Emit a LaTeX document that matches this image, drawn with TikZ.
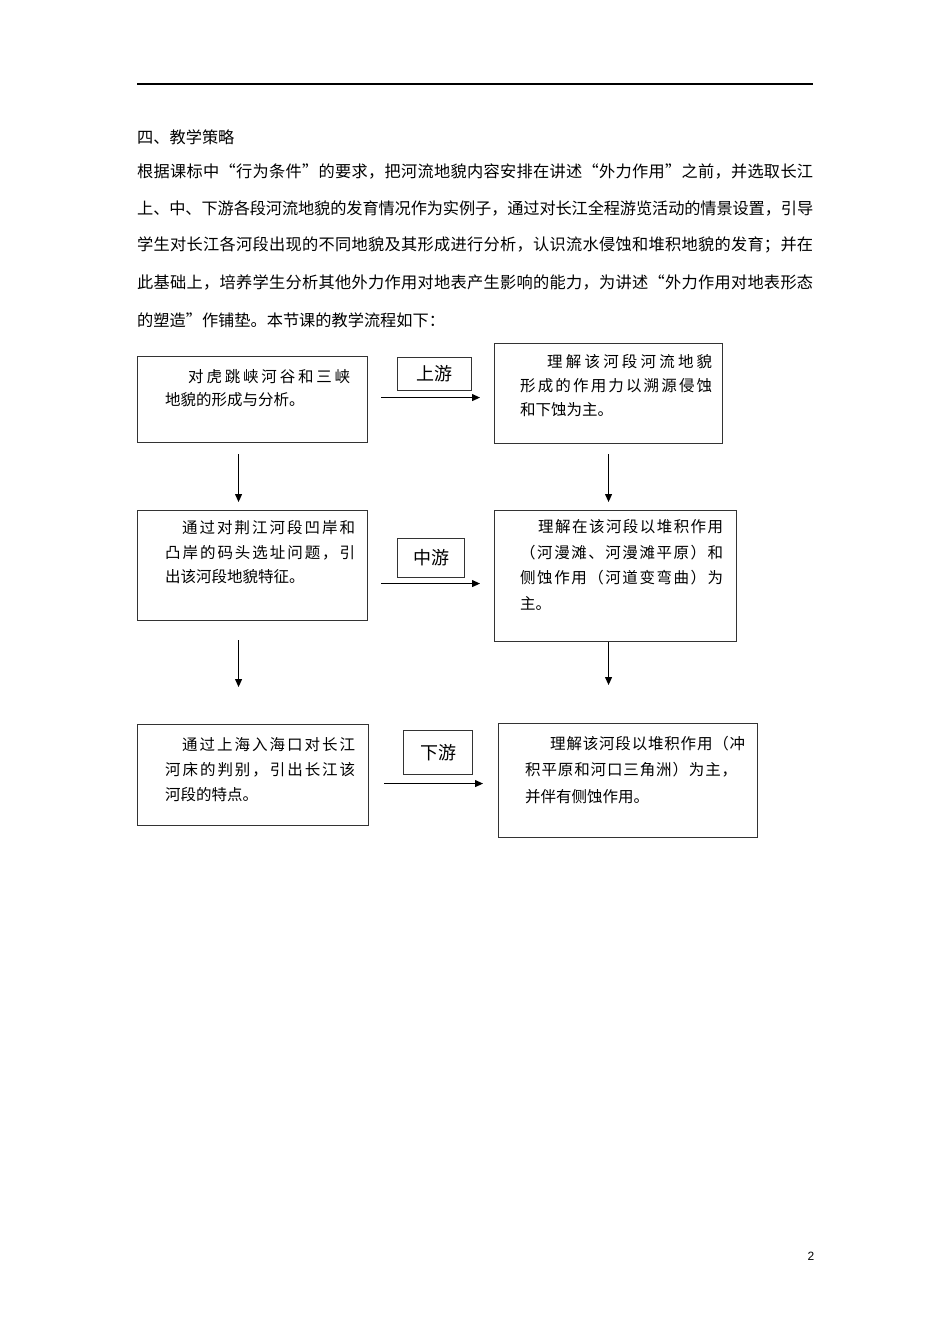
\documentclass[tikz,border=0pt]{standalone}
\usepackage{fontspec}
\usetikzlibrary{arrows.meta}
\setmainfont{Liberation Sans}
\newfontfamily\cjk{Noto Sans CJK SC}
\newcount\cjkcnt
\newcommand\cjkrange[2]{\cjkcnt=#1\relax
  \loop \XeTeXcharclass\cjkcnt=1 \advance\cjkcnt by 1 \ifnum\cjkcnt<#2\relax\repeat}
\cjkrange{"4E00}{"A000}
\cjkrange{"3000}{"3040}
\cjkrange{"FF00}{"FF66}
\cjkrange{"2018}{"201E}
\XeTeXinterchartokenstate=1
\XeTeXinterchartoks 1 1 = {\hskip 0pt plus 1pt minus 0.3pt}
\newcommand\jl[2]{\makebox[#1pt][s]{#2}}
\begin{document}
\begin{tikzpicture}[x=1pt,y=-1pt,
  body/.style={anchor=west, inner sep=0, font=\cjk\fontsize{16.2}{19}\selectfont},
  txt/.style={anchor=west, inner sep=0, font=\cjk\fontsize{15.5}{18}\selectfont},
  box/.style={draw=black!80, line width=1.1pt, inner sep=0, anchor=north west},
  lab/.style={draw=black!80, line width=1.1pt, inner sep=0, anchor=north west, font=\cjk\fontsize{18}{20}\selectfont},
  arr/.style={-{Triangle[length=8pt,width=7pt]}, line width=1pt}]
\fill[white] (0,0) rectangle (950,1344);
\useasboundingbox (0,0) rectangle (950,1344);
% header rule
\draw[line width=1.5pt] (137,84) -- (813,84);
% body text
\node[body] (t1) at (137,137) {四、教学策略};
\node[body] (t2) at (137,172) {\jl{676}{根据课标中“行为条件”的要求，把河流地貌内容安排在讲述“外力作用”之前，并选取长江}};
\node[body] (t3) at (137,208) {\jl{676}{上、中、下游各段河流地貌的发育情况作为实例子，通过对长江全程游览活动的情景设置，引导}};
\node[body] (t4) at (137,245) {\jl{676}{学生对长江各河段出现的不同地貌及其形成进行分析，认识流水侵蚀和堆积地貌的发育；并在}};
\node[body] (t5) at (137,282) {\jl{676}{此基础上，培养学生分析其他外力作用对地表产生影响的能力，为讲述“外力作用对地表形态}};
\node[body] (t6) at (137,320) {的塑造”作铺垫。本节课的教学流程如下：};
% boxes
\node[box, minimum width=230pt, minimum height=86pt] (A1) at (137,356) {};
\node[box, minimum width=228pt, minimum height=100pt] (B1) at (494,343) {};
\node[box, minimum width=230pt, minimum height=110pt] (A2) at (137,510) {};
\node[box, minimum width=242pt, minimum height=131pt] (B2) at (494,510) {};
\node[box, minimum width=231pt, minimum height=101pt] (A3) at (137,724) {};
\node[box, minimum width=259pt, minimum height=114pt] (B3) at (498,723) {};
% labels
\node[lab, minimum width=74pt, minimum height=33pt] (L1) at (397,357) {上游};
\node[lab, minimum width=67pt, minimum height=39pt] (L2) at (397,538) {中游};
\node[lab, minimum width=69pt, minimum height=44pt] (L3) at (403,730) {下游};
% box texts
\node[txt] (a1a) at (188,377) {\jl{162}{对虎跳峡河谷和三峡}};
\node[txt] (a1b) at (165,400) {地貌的形成与分析。};
\node[txt] (b1a) at (547,362) {\jl{165}{理解该河段河流地貌}};
\node[txt] (b1b) at (520,386) {\jl{192}{形成的作用力以溯源侵蚀}};
\node[txt] (b1c) at (520,410) {和下蚀为主。};
\node[txt] (a2a) at (182,528) {\jl{173}{通过对荆江河段凹岸和}};
\node[txt] (a2b) at (165,553) {\jl{190}{凸岸的码头选址问题，引}};
\node[txt] (a2c) at (165,577) {出该河段地貌特征。};
\node[txt] (b2a) at (538,527) {\jl{185}{理解在该河段以堆积作用}};
\node[txt] (b2b) at (520,553) {\jl{203}{（河漫滩、河漫滩平原）和}};
\node[txt] (b2c) at (520,578) {\jl{203}{侧蚀作用（河道变弯曲）为}};
\node[txt] (b2d) at (520,603) {主。};
\node[txt] (a3a) at (182,745) {\jl{173}{通过上海入海口对长江}};
\node[txt] (a3b) at (165,770) {\jl{190}{河床的判别，引出长江该}};
\node[txt] (a3c) at (165,795) {河段的特点。};
\node[txt] (b3a) at (550,744) {\jl{195}{理解该河段以堆积作用（冲}};
\node[txt] (b3b) at (525,770) {\jl{212}{积平原和河口三角洲）为主，}};
\node[txt] (b3c) at (525,797) {并伴有侧蚀作用。};
% horizontal arrows
\coordinate (h1) at ([yshift=2pt]A1.east);
\coordinate (h2) at ([yshift=-18pt]A2.east);
\coordinate (h3) at ([yshift=-8.5pt]A3.east);
\draw[arr, shorten <=13pt, shorten >=14pt] (h1) -- (h1 -| B1.west);
\draw[arr, shorten <=13pt, shorten >=14pt] (h2) -- (h2 -| B2.west);
\draw[arr, shorten <=15pt, shorten >=15pt] (h3) -- (h3 -| B3.west);
% vertical arrows
\coordinate (v1) at ([xshift=-14pt]A1.south);
\coordinate (v2) at ([xshift=-14pt]A2.south);
\coordinate (v3) at (B1.south);
\coordinate (v4) at ([xshift=-7pt]B2.south);
\draw[arr, shorten <=11pt, shorten >=8pt] (v1) -- (v1 |- A2.north);
\draw[arr, shorten <=19pt, shorten >=37pt] (v2) -- (v2 |- A3.north);
\draw[arr, shorten <=10pt, shorten >=8pt] (v3) -- (v3 |- B2.north);
\draw[arr, shorten <=0pt, shorten >=38pt] (v4) -- (v4 |- B3.north);
% page number
\node[inner sep=0, font=\fontsize{12}{14}\selectfont] (pg) at (811,1256) {2};
\end{tikzpicture}
\end{document}
